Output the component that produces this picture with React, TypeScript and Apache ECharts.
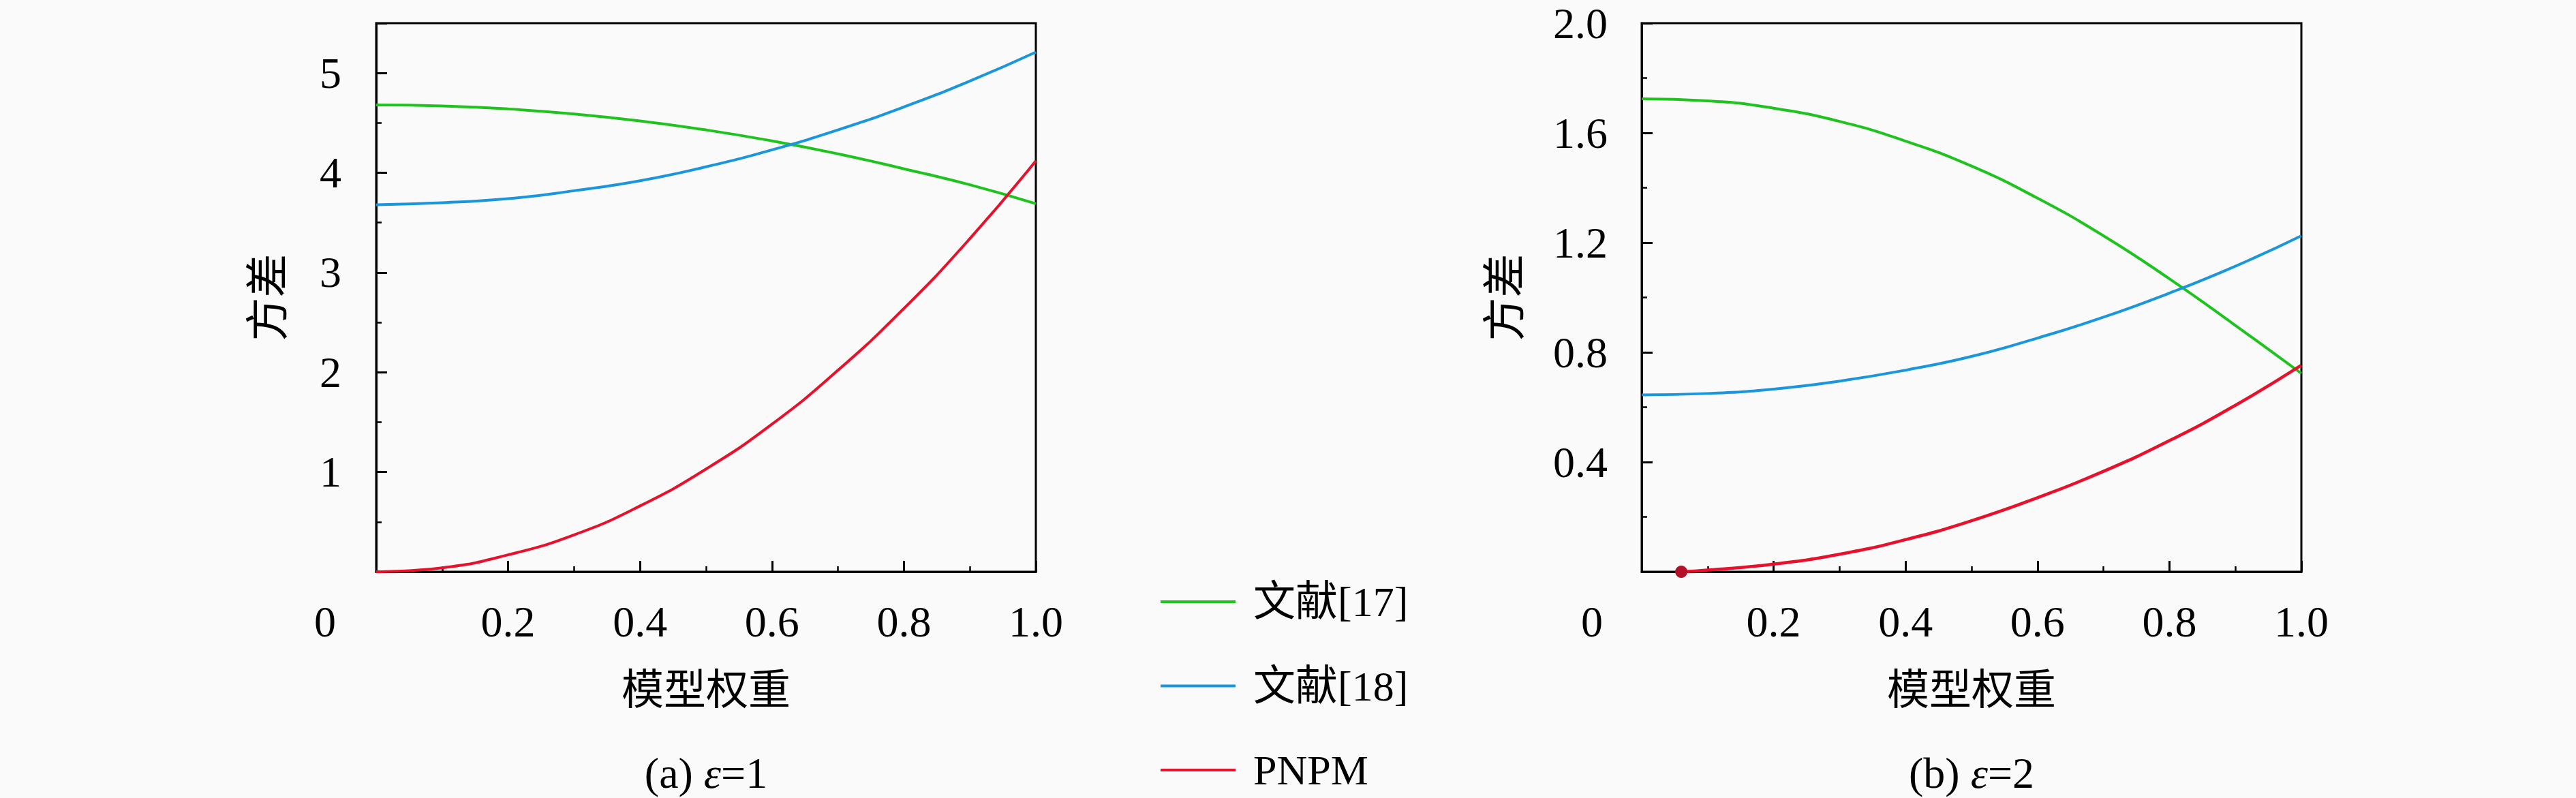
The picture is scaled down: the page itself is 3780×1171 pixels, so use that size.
import React, { useEffect, useRef } from "react";
import * as echarts from "echarts";

// ---- data ----
const xValues = [0, 0.1, 0.2, 0.3, 0.4, 0.5, 0.6, 0.7, 0.8, 0.9, 1.0];
const seriesNames = ["文献[17]", "文献[18]", "PNPM"];

// (a) ε=1
const aRef17 = [4.68, 4.67, 4.64, 4.59, 4.52, 4.43, 4.32, 4.19, 4.04, 3.88, 3.69];
const aRef18 = [3.68, 3.7, 3.74, 3.82, 3.92, 4.06, 4.23, 4.43, 4.66, 4.92, 5.21];
const aPNPM = [0, 0.04, 0.17, 0.37, 0.66, 1.03, 1.48, 2.02, 2.64, 3.34, 4.12];

// (b) ε=2
const bRef17 = [1.724, 1.717, 1.69, 1.642, 1.57, 1.479, 1.362, 1.225, 1.068, 0.898, 0.723];
const bRef18 = [0.645, 0.65, 0.666, 0.695, 0.735, 0.785, 0.852, 0.928, 1.016, 1.114, 1.225];
const bPNPMx = [0.06, 0.1, 0.2, 0.3, 0.4, 0.5, 0.6, 0.7, 0.8, 0.9, 1.0];
const bPNPM = [0, 0.006, 0.028, 0.064, 0.117, 0.186, 0.27, 0.366, 0.478, 0.607, 0.753];

const captions = ["(a) ", "(b) "];
const epsValues = ["1", "2"];
const xAxisName = "模型权重";
const yAxisName = "方差";

const GREEN = "#1ec31e";
const BLUE = "#1a96dc";
const RED = "#e8102a";
const DOT = "#b3102a";
const colors = [GREEN, BLUE, RED];
const FONT = "'Liberation Serif', 'Noto Sans CJK SC', serif";

const zip = (xs: number[], ys: number[]) => xs.map((x, i) => [x, ys[i]]);

export default function App() {
  const ref = useRef<HTMLDivElement>(null);
  useEffect(() => {
    if (!ref.current) return;
    const chart = echarts.init(ref.current, undefined, { renderer: "svg" });

    const gridCommon = {
      top: 34,
      width: 968,
      height: 805,
      show: true,
      borderColor: "#000",
      borderWidth: 3,
      backgroundColor: "transparent",
      containLabel: false,
    };

    const tickLine = { color: "#000", width: 3 };
    const labelStyle = { fontFamily: FONT, fontSize: 64, color: "#000" };

    const xAxis = (gridIndex: number) => ({
      type: "value",
      gridIndex,
      min: 0,
      max: 1,
      interval: 0.2,
      name: xAxisName,
      nameLocation: "middle",
      nameGap: 143,
      nameTextStyle: { fontFamily: FONT, fontSize: 62, color: "#000" },
      axisLine: { show: true, onZero: false, lineStyle: tickLine },
      axisTick: { show: true, inside: true, length: 16, lineStyle: tickLine },
      minorTick: { show: true, splitNumber: 2, length: 8, lineStyle: { color: "#000", width: 2.5 } },
      splitLine: { show: false },
      minorSplitLine: { show: false },
      axisLabel: {
        ...labelStyle,
        margin: 73,
        verticalAlign: "middle",
        formatter: (v: number) => (Math.abs(v) < 1e-9 ? "" : v.toFixed(1)),
      },
    });

    const yAxes = [
      {
        type: "value",
        gridIndex: 0,
        position: "left",
        min: 0,
        max: 5.5,
        interval: 1,
        name: yAxisName,
        nameLocation: "middle",
        nameGap: 127,
        nameTextStyle: { fontFamily: FONT, fontSize: 64, color: "#000" },
        axisLine: { show: true, onZero: false, lineStyle: tickLine },
        axisTick: { show: true, inside: true, length: 16, lineStyle: tickLine },
        splitLine: { show: false },
        axisLabel: {
          ...labelStyle,
          margin: 51,
          formatter: (v: number) => (Math.abs(v) < 1e-9 || Math.abs(v - Math.round(v)) > 1e-9 ? "" : String(v)),
        },
      },
      {
        type: "value",
        gridIndex: 0,
        position: "left",
        offset: 0,
        min: 0,
        max: 5.5,
        interval: 0.5,
        axisLine: { show: false },
        axisTick: { show: true, inside: true, length: 8, lineStyle: { color: "#000", width: 2.5 } },
        axisLabel: { show: false },
        splitLine: { show: false },
      },
      {
        type: "value",
        gridIndex: 1,
        position: "left",
        min: 0,
        max: 2,
        interval: 0.4,
        name: yAxisName,
        nameLocation: "middle",
        nameGap: 169,
        nameTextStyle: { fontFamily: FONT, fontSize: 64, color: "#000" },
        axisLine: { show: true, onZero: false, lineStyle: tickLine },
        axisTick: { show: true, inside: true, length: 16, lineStyle: tickLine },
        minorTick: { show: true, splitNumber: 2, length: 8, lineStyle: { color: "#000", width: 2.5 } },
        splitLine: { show: false },
        minorSplitLine: { show: false },
        axisLabel: {
          ...labelStyle,
          margin: 50,
          formatter: (v: number) => (Math.abs(v) < 1e-9 ? "" : v.toFixed(1)),
        },
      },
    ];

    const line = (name: string, color: string, xi: number, yi: number, data: any[], width = 4) => ({
      type: "line",
      name,
      xAxisIndex: xi,
      yAxisIndex: yi,
      data,
      smooth: 0.5,
      symbol: "none",
      showSymbol: true,
      lineStyle: { color, width },
      itemStyle: { color },
      emphasis: { disabled: true },
    });

    const bRedData: any[] = zip(bPNPMx, bPNPM);
    bRedData[0] = { value: bRedData[0], symbol: "circle", symbolSize: 18, itemStyle: { color: DOT } };

    const series = [
      line(seriesNames[0], GREEN, 0, 0, zip(xValues, aRef17)),
      line(seriesNames[1], BLUE, 0, 0, zip(xValues, aRef18)),
      line(seriesNames[2], RED, 0, 0, zip(xValues, aPNPM)),
      line(seriesNames[0], GREEN, 1, 2, zip(xValues, bRef17)),
      line(seriesNames[1], BLUE, 1, 2, zip(xValues, bRef18)),
      line(seriesNames[2], RED, 1, 2, bRedData, 4.5),
    ];

    const plotLefts = [552, 2409];
    const labelRights = [501, 2360];

    const graphics: any[] = [];
    for (let i = 0; i < 2; i++) {
      graphics.push({
        type: "text",
        left: labelRights[i] - 40,
        top: 912 - 32,
        style: { text: "0", font: `64px ${FONT}`, fill: "#000", width: 40, align: "right" },
      });
      graphics.push({
        type: "text",
        x: plotLefts[i] + 484,
        y: 1134,
        style: {
          text: `${captions[i]}{e|ε}=${epsValues[i]}`,
          fontFamily: FONT,
          fontSize: 64,
          fill: "#000",
          align: "center",
          verticalAlign: "middle",
          rich: { e: { fontFamily: FONT, fontSize: 64, fontStyle: "italic", fill: "#000" } },
        },
      });
    }

    chart.setOption({
      animation: false,
      backgroundColor: "#fafafa",
      grid: [
        { ...gridCommon, left: plotLefts[0] },
        { ...gridCommon, left: plotLefts[1] },
      ],
      xAxis: [xAxis(0), xAxis(1)],
      yAxis: yAxes,
      legend: {
        orient: "vertical",
        left: 1703,
        top: 851,
        padding: 0,
        height: 320,
        itemWidth: 110,
        itemHeight: 4,
        itemGap: 59.5,
        icon: "rect",
        selectedMode: false,
        data: seriesNames.map((n, i) => ({ name: n, itemStyle: { color: colors[i] } })),
        textStyle: { fontFamily: FONT, fontSize: 62, color: "#000", lineHeight: 64, padding: [0, 0, 0, 21] },
      },
      graphic: graphics,
      series,
    });

    return () => chart.dispose();
  }, []);

  return (
    <div
      ref={ref}
      style={{ position: "fixed", left: 0, top: 0, width: 3780, height: 1171 }}
    />
  );
}
